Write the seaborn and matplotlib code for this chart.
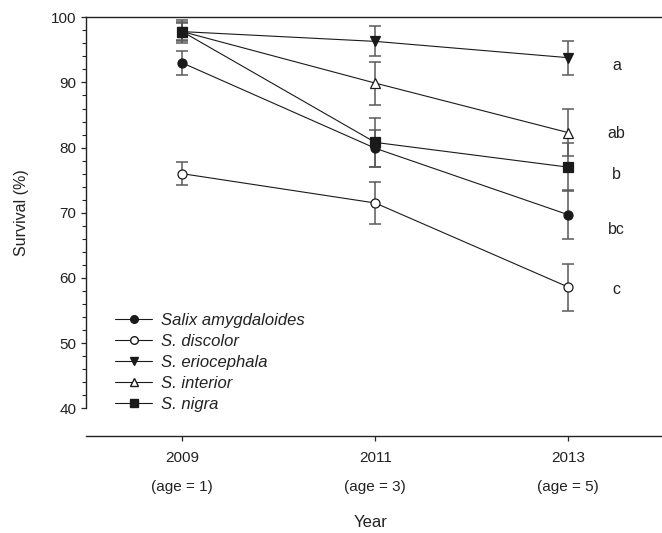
import matplotlib
matplotlib.use("Agg")
import matplotlib.pyplot as plt
from matplotlib.lines import Line2D
from matplotlib.ticker import MultipleLocator
import seaborn as sns
import pandas as pd

years = [2009, 2011, 2013]
year_ticks = ["2009", "2011", "2013"]
age_labels = ["(age = 1)", "(age = 3)", "(age = 5)"]
species = ["Salix amygdaloides", "S. discolor", "S. eriocephala", "S. interior", "S. nigra"]
amygdaloides = [93.0, 79.9, 69.7]
discolor = [76.0, 71.5, 58.6]
eriocephala = [97.8, 96.3, 93.8]
interior = [97.8, 89.9, 82.3]
nigra = [97.8, 80.8, 77.0]
amygdaloides_se = [1.9, 2.8, 3.8]
discolor_se = [1.8, 3.2, 3.6]
eriocephala_se = [1.3, 2.3, 2.6]
interior_se = [1.5, 3.3, 3.6]
nigra_se = [1.8, 3.7, 3.7]
letters = ["a", "ab", "b", "bc", "c"]
letter_y = [92.6, 82.1, 75.8, 67.4, 58.2]

means = [amygdaloides, discolor, eriocephala, interior, nigra]
ses = [amygdaloides_se, discolor_se, eriocephala_se, interior_se, nigra_se]
markers = ["o", "o", "v", "^", "s"]
faces = ["#1a1a1a", "white", "#1a1a1a", "white", "#1a1a1a"]

rows = []
for sp, m in zip(species, means):
    for yr, v in zip(years, m):
        rows.append({"species": sp, "year": yr, "survival": v})
df = pd.DataFrame(rows)

sns.set_style("ticks")
plt.rcParams["font.family"] = ["Liberation Sans", "DejaVu Sans"]

fig = plt.figure(figsize=(6.62, 5.33), dpi=100)
ax = fig.add_axes([0.1295, 0.234, 0.8746, 0.7336])

for m, s in zip(means, ses):
    ax.errorbar(years, m, yerr=s, fmt="none", ecolor="#5a5a5a", elinewidth=1.1,
                capsize=4.4, capthick=1.1, zorder=2)

for sp, mk, fc in zip(species, markers, faces):
    sub = df[df["species"] == sp]
    sns.lineplot(data=sub, x="year", y="survival", ax=ax, color="#1a1a1a",
                 linewidth=0.8, marker=mk, markersize=6.5, markerfacecolor=fc,
                 markeredgecolor="#1a1a1a", markeredgewidth=0.9, zorder=3,
                 legend=False)

for lt, ly in zip(letters, letter_y):
    ax.text(2013.5, ly, lt, ha="center", va="center", fontsize=11.5, color="#222222")

ax.set_xlim(2008, 2014)
ax.set_ylim(40, 100)
ax.set_xticks(years)
ax.set_xticklabels(year_ticks)
for yr, al in zip(years, age_labels):
    ax.annotate(al, xy=(yr, 0), xycoords=("data", "axes fraction"),
                xytext=(0, -56.4), textcoords="offset points",
                ha="center", va="center", fontsize=11, color="#222222")

ax.yaxis.set_major_locator(MultipleLocator(10))
ax.yaxis.set_minor_locator(MultipleLocator(2))
ax.tick_params(axis="y", which="major", length=3.8, width=0.9, labelsize=11, pad=3,
               labelcolor="#222222")
ax.tick_params(axis="y", which="minor", length=3, width=0.8)
ax.tick_params(axis="x", which="major", length=3.8, width=0.9, labelsize=11, pad=7,
               labelcolor="#222222")
ax.tick_params(axis="x", which="minor", bottom=False)

ax.spines["right"].set_visible(False)
ax.spines["bottom"].set_position(("outward", 19.7))
ax.spines["left"].set_bounds(40, 100)
for sp in ["left", "bottom", "top"]:
    ax.spines[sp].set_linewidth(1.0)
    ax.spines[sp].set_color("#222222")

ax.set_ylabel("Survival (%)", fontsize=11.5, color="#222222")
ax.yaxis.set_label_coords(-0.1105, 0.5)
ax.yaxis.label.set_va("center")
ax.set_xlabel("Year", fontsize=12, color="#222222")
ax.xaxis.set_label_coords(0.4913, -0.2933)
ax.xaxis.label.set_va("center")

handles = [Line2D([0], [0], color="#1a1a1a", linewidth=0.8, marker=mk, markersize=5.5,
                  markerfacecolor=fc, markeredgecolor="#1a1a1a") for mk, fc in zip(markers, faces)]
leg = ax.legend(handles, species, loc="lower left", bbox_to_anchor=(0.025, -0.048),
                frameon=False, labelspacing=0.36, handlelength=2.2,
                handletextpad=0.56, prop={"style": "italic", "size": 12})
for t in leg.get_texts():
    t.set_color("#222222")

fig.savefig("out.png", dpi=100)
